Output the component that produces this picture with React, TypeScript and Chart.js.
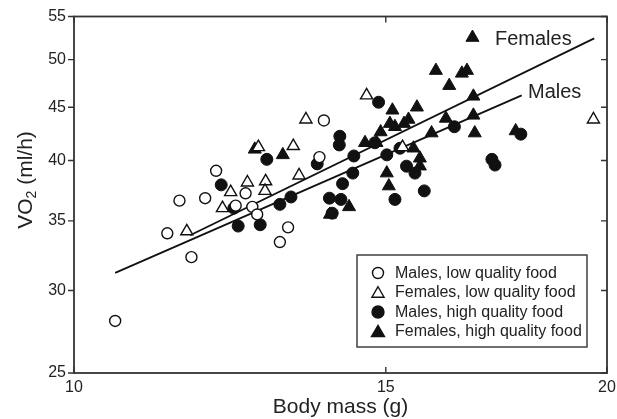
import React, { useEffect, useRef } from "react";
import { Chart, registerables } from "chart.js";

Chart.register(...registerables);

// Males, low quality food (open circles)
const maleLowX = [11.47, 11.86, 12.03, 11.29, 11.65, 10.55, 12.34, 12.5, 12.61, 12.69, 13.07, 13.21, 13.84, 13.76];
const maleLowY = [36.6, 36.8, 39.1, 34.05, 32.3, 28.05, 36.2, 37.2, 36.1, 35.5, 33.4, 34.5, 43.7, 40.3];

// Females, low quality food (open triangles)
const femaleLowX = [11.58, 12.13, 12.26, 12.53, 12.83, 12.82, 12.71, 14.63, 13.52, 13.3, 13.4, 15.33, 19.65];
const femaleLowY = [34.2, 36.0, 37.3, 38.1, 38.2, 37.4, 41.2, 46.2, 43.8, 41.3, 38.7, 41.2, 43.8];

// Males, high quality food (filled circles)
const maleHighX = [12.11, 12.85, 12.31, 12.38, 12.74, 13.07, 13.26, 14.86, 14.13, 14.12, 13.72, 14.39, 14.37, 14.18, 13.94, 14.15, 13.99, 14.79, 15.02, 15.41, 15.58, 15.77, 15.18, 16.4, 15.28, 17.88, 17.22, 17.29];
const maleHighY = [37.9, 40.1, 36.0, 34.6, 34.7, 36.3, 36.9, 45.5, 42.2, 41.4, 39.7, 40.4, 38.9, 38.0, 36.8, 36.7, 35.6, 41.6, 40.5, 39.5, 38.9, 37.4, 36.7, 43.1, 41.1, 42.4, 40.1, 39.6];

// Females, high quality food (filled triangles)
const femaleHighX = [12.65, 13.12, 16.79, 16.01, 16.56, 16.67, 16.29, 15.62, 15.13, 16.81, 16.22, 16.81, 16.84, 15.92, 15.08, 15.18, 15.36, 15.45, 14.9, 14.6, 14.82, 15.55, 15.68, 15.68, 15.02, 15.06, 14.3, 13.95, 17.76];
const femaleHighY = [41.0, 40.5, 52.5, 48.8, 48.5, 48.8, 47.2, 45.0, 44.7, 46.1, 43.9, 44.2, 42.5, 42.5, 43.4, 43.1, 43.4, 43.8, 42.6, 41.6, 41.6, 41.1, 40.2, 39.5, 38.9, 37.8, 36.1, 35.5, 42.7];

// Regression lines (endpoints)
const malesLineX = [10.55, 17.9];
const malesLineY = [31.2, 46.2];
const femalesLineX = [11.63, 19.67];
const femalesLineY = [33.9, 52.4];

const xTicks = [10, 15, 20];
const yTicks = [25, 30, 35, 40, 45, 50, 55];

const legendLabels = [
  "Males, low quality food",
  "Females, low quality food",
  "Males, high quality food",
  "Females, high quality food",
];

const FONT = "'Liberation Sans', Arial, Helvetica, sans-serif";
const INK = "#111";
const AXIS = "#333";

const pts = (xs: number[], ys: number[]) => xs.map((x, i) => ({ x, y: ys[i] }));

function drawMarker(ctx: CanvasRenderingContext2D, kind: number, x: number, y: number) {
  ctx.save();
  ctx.lineWidth = 1.4;
  ctx.strokeStyle = INK;
  ctx.fillStyle = kind < 2 ? "#fff" : INK;
  ctx.beginPath();
  if (kind === 0 || kind === 2) {
    ctx.arc(x, y, kind === 0 ? 5.5 : 6, 0, Math.PI * 2);
  } else {
    const r = kind === 1 ? 7 : 7.5;
    const cy = y + r * 0.25;
    for (let k = 0; k < 3; k++) {
      const a = (k * 2 * Math.PI) / 3;
      const px = x + Math.sin(a) * r;
      const py = cy - Math.cos(a) * r;
      if (k === 0) ctx.moveTo(px, py);
      else ctx.lineTo(px, py);
    }
    ctx.closePath();
  }
  ctx.fill();
  ctx.stroke();
  ctx.restore();
}

const decorPlugin = {
  id: "decor",
  afterDraw(chart: any) {
    const ctx: CanvasRenderingContext2D = chart.ctx;
    const { left, right, top, bottom } = chart.chartArea;
    const xs = chart.scales.x;
    const ys = chart.scales.y;
    ctx.save();
    // frame
    ctx.strokeStyle = AXIS;
    ctx.lineWidth = 1.8;
    ctx.strokeRect(left, top, right - left, bottom - top);
    // ticks
    ctx.lineWidth = 1.4;
    ctx.beginPath();
    xTicks.forEach((v) => {
      const p = xs.getPixelForValue(v);
      ctx.moveTo(p, bottom);
      ctx.lineTo(p, bottom - 6);
      ctx.moveTo(p, top);
      ctx.lineTo(p, top + 6);
    });
    yTicks.forEach((v) => {
      const p = ys.getPixelForValue(v);
      ctx.moveTo(left - 6, p);
      ctx.lineTo(left, p);
      ctx.moveTo(right, p);
      ctx.lineTo(right - 6, p);
    });
    ctx.stroke();

    // line labels
    ctx.fillStyle = "#222";
    ctx.font = `20px ${FONT}`;
    ctx.textAlign = "left";
    ctx.textBaseline = "middle";
    ctx.fillText("Females", 495, 39);
    ctx.fillText("Males", 528, 92);

    // legend
    ctx.fillStyle = "#fff";
    ctx.fillRect(357, 255, 230, 92);
    ctx.strokeStyle = AXIS;
    ctx.lineWidth = 1.4;
    ctx.strokeRect(357, 255, 230, 92);
    const rows = [273, 292, 312, 331];
    ctx.font = `16px ${FONT}`;
    legendLabels.forEach((lab, i) => {
      drawMarker(ctx, i, 378, rows[i]);
      ctx.fillStyle = "#222";
      ctx.textAlign = "left";
      ctx.textBaseline = "middle";
      ctx.fillText(lab, 395, rows[i] + 1);
    });

    // x title
    ctx.fillStyle = "#222";
    ctx.font = `21px ${FONT}`;
    ctx.textAlign = "center";
    ctx.textBaseline = "alphabetic";
    ctx.fillText("Body mass (g)", (left + right) / 2, 413);

    // y title with subscript
    ctx.save();
    ctx.translate(31.7, 180);
    ctx.rotate(-Math.PI / 2);
    ctx.textAlign = "left";
    ctx.textBaseline = "alphabetic";
    const big = `21px ${FONT}`;
    const small = `14px ${FONT}`;
    ctx.font = big;
    const w1 = ctx.measureText("VO").width;
    const w3 = ctx.measureText(" (ml/h)").width;
    ctx.font = small;
    const w2 = ctx.measureText("2").width;
    const total = w1 + w2 + w3;
    let cx = -total / 2;
    ctx.font = big;
    ctx.fillText("VO", cx, 0);
    cx += w1;
    ctx.font = small;
    ctx.fillText("2", cx, 4);
    cx += w2;
    ctx.font = big;
    ctx.fillText(" (ml/h)", cx, 0);
    ctx.restore();

    ctx.restore();
  },
};

export default function App() {
  const ref = useRef<HTMLCanvasElement | null>(null);
  useEffect(() => {
    if (!ref.current) return;
    const chart = new Chart(ref.current, {
      type: "scatter",
      data: {
        datasets: [
          {
            label: legendLabels[1],
            data: pts(femaleLowX, femaleLowY),
            pointStyle: "triangle",
            pointRadius: 7,
            backgroundColor: "#fff",
            borderColor: INK,
            borderWidth: 1.4,
          },
          {
            label: legendLabels[0],
            data: pts(maleLowX, maleLowY),
            pointStyle: "circle",
            pointRadius: 5.5,
            backgroundColor: "#fff",
            borderColor: INK,
            borderWidth: 1.4,
          },
          {
            label: legendLabels[2],
            data: pts(maleHighX, maleHighY),
            pointStyle: "circle",
            pointRadius: 6,
            backgroundColor: INK,
            borderColor: INK,
            borderWidth: 1,
          },
          {
            label: legendLabels[3],
            data: pts(femaleHighX, femaleHighY),
            pointStyle: "triangle",
            pointRadius: 7.5,
            backgroundColor: INK,
            borderColor: INK,
            borderWidth: 1,
          },
          {
            label: "Males",
            data: pts(malesLineX, malesLineY),
            showLine: true,
            pointRadius: 0,
            borderColor: INK,
            borderWidth: 1.8,
          },
          {
            label: "Females",
            data: pts(femalesLineX, femalesLineY),
            showLine: true,
            pointRadius: 0,
            borderColor: INK,
            borderWidth: 1.8,
          },
        ],
      },
      options: {
        responsive: false,
        animation: false,
        devicePixelRatio: 1,
        layout: { padding: { left: 0, right: 10, top: 16.5, bottom: 0 } },
        plugins: { legend: { display: false }, tooltip: { enabled: false } },
        scales: {
          x: {
            type: "logarithmic",
            min: 10,
            max: 20,
            grid: { display: false, drawTicks: false },
            border: { display: false },
            afterBuildTicks: (s: any) => {
              s.ticks = xTicks.map((v) => ({ value: v }));
            },
            afterFit: (s: any) => {
              s.height = 46;
              s.paddingLeft = 0;
              s.paddingRight = 0;
            },
            ticks: {
              padding: 5,
              maxRotation: 0,
              autoSkip: false,
              color: "#222",
              font: { family: FONT, size: 16 },
              callback: (v: any) => String(v),
            },
          },
          y: {
            type: "logarithmic",
            min: 25,
            max: 55,
            grid: { display: false, drawTicks: false },
            border: { display: false },
            afterBuildTicks: (s: any) => {
              s.ticks = yTicks.map((v) => ({ value: v }));
            },
            afterFit: (s: any) => {
              s.width = 74;
              s.paddingTop = 0;
              s.paddingBottom = 0;
            },
            ticks: {
              padding: 8,
              autoSkip: false,
              color: "#222",
              font: { family: FONT, size: 16 },
              callback: (v: any) => String(v),
            },
          },
        },
      },
      plugins: [decorPlugin],
    });
    return () => chart.destroy();
  }, []);
  return (
    <div style={{ position: "fixed", left: 0, top: 0, width: 617, height: 419, background: "#fff" }}>
      <canvas ref={ref} width={617} height={419} style={{ display: "block" }} />
    </div>
  );
}
